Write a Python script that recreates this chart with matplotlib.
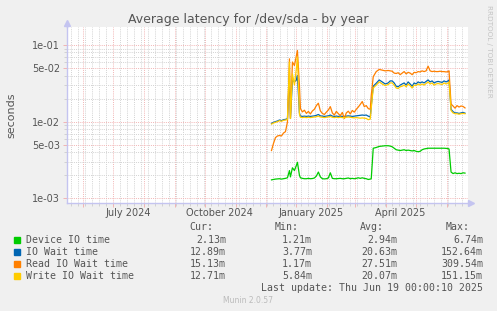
import matplotlib
matplotlib.use('Agg')
import matplotlib.pyplot as plt
import matplotlib.dates as mdates
import numpy as np
from matplotlib.patches import Rectangle
from matplotlib.ticker import FixedLocator, FixedFormatter, NullFormatter

# sample dates (one point every ~2 days, denser around the spikes)
dates = [
    '2024-12-07', '2024-12-09', '2024-12-11', '2024-12-13', '2024-12-15', '2024-12-17', '2024-12-19', '2024-12-21', '2024-12-23', '2024-12-25',
    '2024-12-26', '2024-12-28', '2024-12-30', '2025-01-01', '2025-01-02', '2025-01-04', '2025-01-05', '2025-01-07', '2025-01-09', '2025-01-11',
    '2025-01-13', '2025-01-15', '2025-01-17', '2025-01-19', '2025-01-21', '2025-01-23', '2025-01-25', '2025-01-27', '2025-01-29', '2025-01-31',
    '2025-02-02', '2025-02-04', '2025-02-06', '2025-02-08', '2025-02-10', '2025-02-12', '2025-02-14', '2025-02-16', '2025-02-18', '2025-02-20',
    '2025-02-22', '2025-02-24', '2025-02-26', '2025-02-28', '2025-03-02', '2025-03-04', '2025-03-06', '2025-03-08', '2025-03-10', '2025-03-12',
    '2025-03-14', '2025-03-16', '2025-03-17', '2025-03-19', '2025-03-22', '2025-03-25', '2025-03-28', '2025-03-31', '2025-04-03', '2025-04-05',
    '2025-04-07', '2025-04-09', '2025-04-11', '2025-04-13', '2025-04-15', '2025-04-17', '2025-04-19', '2025-04-21', '2025-04-23', '2025-04-25',
    '2025-04-27', '2025-04-29', '2025-05-01', '2025-05-03', '2025-05-05', '2025-05-07', '2025-05-09', '2025-05-11', '2025-05-13', '2025-05-15',
    '2025-05-17', '2025-05-19', '2025-05-21', '2025-05-23', '2025-05-25', '2025-05-27', '2025-05-29', '2025-05-31', '2025-06-02', '2025-06-03',
    '2025-06-05', '2025-06-07', '2025-06-09', '2025-06-11', '2025-06-13', '2025-06-15', '2025-06-17', '2025-06-19']

# values in milliseconds
device_ms = [
    1.74, 1.76, 1.78, 1.79, 1.80, 1.78, 1.80, 1.82, 1.85, 2.3,
    1.9, 2.5, 2.3, 2.7, 2.95, 2.0, 1.85, 1.82, 1.80, 1.80,
    1.82, 1.80, 1.81, 1.84, 1.95, 2.2, 1.90, 1.80, 1.79, 1.80,
    1.84, 2.15, 1.82, 1.80, 1.80, 1.81, 1.82, 1.80, 1.80, 1.82,
    1.84, 1.80, 1.82, 1.80, 1.82, 1.85, 1.82, 1.85, 1.82, 1.80,
    1.76, 1.78, 1.80, 4.5, 4.6, 4.75, 4.8, 4.85, 4.85, 4.8,
    4.7, 4.5, 4.3, 4.25, 4.2, 4.25, 4.3, 4.2, 4.25, 4.2,
    4.15, 4.2, 4.1, 4.05, 4.1, 4.3, 4.4, 4.45, 4.5, 4.5,
    4.5, 4.5, 4.5, 4.5, 4.5, 4.5, 4.5, 4.48, 4.45, 4.4,
    2.2, 2.1, 2.15, 2.1, 2.12, 2.1, 2.15, 2.13]

iowait_ms = [
    9.5, 9.8, 10.0, 10.2, 10.5, 10.3, 10.6, 10.7, 10.9, 40,
    11, 35, 33, 35, 40, 13, 11.8, 11.7, 11.8, 11.7,
    11.8, 11.7, 11.8, 11.9, 12.1, 12.4, 11.9, 11.8, 11.7, 11.8,
    11.9, 12.2, 11.8, 11.7, 11.8, 11.7, 11.8, 11.7, 11.7, 11.8,
    11.9, 11.8, 11.7, 11.8, 11.9, 12.0, 12.1, 12.2, 12.1, 12.2,
    11.8, 11.5, 16, 29, 31.7, 35, 33, 31, 32, 34,
    34, 32, 29, 28.5, 30, 31, 32, 30, 33, 31,
    29, 32, 31, 33, 32, 33, 32, 33.5, 35, 33,
    34, 32, 33, 33.5, 33, 32.5, 34, 33, 34, 35,
    14.5, 13.5, 13, 13, 12.8, 13, 13.2, 12.9]

read_ms = [
    4.2, 5.2, 6.2, 6.5, 6.6, 6.5, 7.1, 7.4, 9.9, 66,
    11, 60, 54, 73, 85, 30, 14.8, 13.4, 14.1, 12.8,
    13.6, 12.6, 13.8, 14.5, 16.2, 17.4, 13.8, 12.8, 12.4, 13.3,
    14.2, 15.7, 13.0, 12.2, 13.6, 12.7, 12.0, 13.2, 11.0, 13.0,
    13.7, 12.6, 14.0, 13.3, 14.5, 15.5, 16.8, 18.3, 15.7, 16.2,
    14.8, 14.5, 22, 38.6, 45, 48, 47, 46, 46.5, 46,
    45.5, 43, 42.5, 43.5, 41, 43, 45, 42, 44, 43,
    41, 44, 43.5, 45, 44.5, 46, 45, 46, 53, 46,
    45, 45.5, 45, 45, 45.5, 45, 45, 44.5, 45, 46,
    17, 16, 15, 16.2, 15.5, 16, 15.8, 15.1]

write_ms = [
    9.3, 9.6, 9.8, 10.0, 10.3, 10.1, 10.4, 10.5, 10.7, 60,
    11, 42, 30, 50, 70, 12.5, 11.4, 11.3, 11.4, 11.3,
    11.4, 11.3, 11.4, 11.5, 11.6, 11.8, 11.5, 11.4, 11.3, 11.4,
    11.5, 11.7, 11.4, 11.3, 11.4, 11.3, 11.4, 11.3, 11.2, 11.4,
    11.5, 11.4, 11.3, 11.2, 11.3, 11.2, 11.1, 11.2, 11.1, 11.0,
    10.6, 10.8, 15, 27.5, 30, 33, 31, 29.5, 30.5, 32,
    32, 30, 27.5, 27, 28.5, 29, 30, 28.5, 31, 29.5,
    27.5, 30, 29.5, 31, 30, 31, 30, 31.5, 33, 31,
    32, 30, 31, 31.5, 31, 30.5, 32, 31, 32, 33,
    14, 13, 12.7, 12.7, 12.5, 12.7, 12.8, 12.7]

series_names = ['Device IO time', 'IO Wait time', 'Read IO Wait time', 'Write IO Wait time']
series_colors = ['#00CC00', '#0066B3', '#FF8000', '#FFCC00']
cur_vals = ['2.13m', '12.89m', '15.13m', '12.71m']
min_vals = ['1.21m', '3.77m', '1.17m', '5.84m']
avg_vals = ['2.94m', '20.63m', '27.51m', '20.07m']
max_vals = ['6.74m', '152.64m', '309.54m', '151.15m']

y_major = [1e-3, 5e-3, 1e-2, 5e-2, 1e-1]
y_major_labels = ['1e-03', '5e-03', '1e-02', '5e-02', '1e-01']
y_minor = [2e-3, 3e-3, 4e-3, 6e-3, 7e-3, 8e-3, 9e-3,
           2e-2, 3e-2, 4e-2, 6e-2, 7e-2, 8e-2, 9e-2]
x_labels = ['July 2024', 'October 2024', 'January 2025', 'April 2025']
x_label_dates = ['2024-07-16', '2024-10-16', '2025-01-16', '2025-04-15']

W, H = 497, 311
def fx(px):
    return px / W
def fy(py):
    return 1 - py / H

text_col = '#555555'
axis_col = '#C4C4F0'
mgrid_col = '#F2B4B4'
grid_col = '#D2D2D2'
dot = (0, (1, 1.2))

fig = plt.figure(figsize=(W / 100, H / 100), dpi=100, facecolor='#F0F0F0')
ax = fig.add_axes([fx(67), fy(202.5), (468 - 67) / W, (202.5 - 27) / H])
ax.set_facecolor('white')
ax.set_yscale('log')
ax.set_ylim(10 ** -3.055, 10 ** -0.765)
ax.set_xlim(np.datetime64('2024-05-16'), np.datetime64('2025-06-22'))

x = np.array(dates, dtype='datetime64[D]')
for vals, col in zip([device_ms, iowait_ms, read_ms, write_ms], series_colors):
    ax.plot(x, np.array(vals) * 1e-3, color=col, lw=0.9, zorder=3)

# grid
ax.xaxis.set_major_locator(mdates.MonthLocator())
ax.xaxis.set_minor_locator(mdates.WeekdayLocator(byweekday=mdates.MO))
ax.xaxis.set_major_formatter(NullFormatter())
ax.xaxis.set_minor_formatter(NullFormatter())
ax.yaxis.set_major_locator(FixedLocator(y_major))
ax.yaxis.set_major_formatter(FixedFormatter(y_major_labels))
ax.yaxis.set_minor_locator(FixedLocator(y_minor))
ax.yaxis.set_minor_formatter(NullFormatter())
ax.grid(which='minor', color=grid_col, ls=dot, lw=0.7)
ax.grid(which='major', color=mgrid_col, ls=dot, lw=0.7)
ax.set_axisbelow(True)

ax.tick_params(which='major', axis='both', length=3, width=0.7, color=mgrid_col,
               labelsize=7, labelcolor=text_col, pad=2)
ax.tick_params(which='minor', axis='both', length=2, width=0.7, color=grid_col)

for s in ['top', 'right']:
    ax.spines[s].set_visible(False)
for s in ['left', 'bottom']:
    ax.spines[s].set_color(axis_col)
    ax.spines[s].set_linewidth(1)

# axis arrows
ax.plot([1.0, 1.008], [0, 0], color=axis_col, lw=1, transform=ax.transAxes, clip_on=False)
ax.plot([1.008], [0], marker='>', ms=4, color=axis_col, transform=ax.transAxes, clip_on=False)
ax.plot([0, 0], [1.0, 1.02], color=axis_col, lw=1, transform=ax.transAxes, clip_on=False)
ax.plot([0], [1.025], marker='^', ms=4, color=axis_col, transform=ax.transAxes, clip_on=False)

for d, lab in zip(x_label_dates, x_labels):
    ax.text(np.datetime64(d), -0.06, lab, transform=ax.get_xaxis_transform(),
            ha='center', va='center', fontsize=7, color=text_col)

fig.text(fx(248), fy(19.5), 'Average latency for /dev/sda - by year',
         ha='center', va='center', fontsize=9, color=text_col)
fig.text(fx(11), fy(115), 'seconds', rotation=90, ha='center', va='center',
         fontsize=8, color=text_col)
fig.text(fx(489), fy(5), 'RRDTOOL / TOBI OETIKER', rotation=270, ha='center',
         va='top', fontsize=5.2, color='#C4C4C4')

# legend
mono = dict(family='DejaVu Sans Mono', fontsize=7.15, color=text_col, va='center')
for hdr, px in zip(['Cur:', 'Min:', 'Avg:', 'Max:'], [213, 299, 384, 470]):
    fig.text(fx(px), fy(227.5), hdr, ha='right', **mono)
rows_y = [240, 252, 264, 276]
for i, name in enumerate(series_names):
    yy = rows_y[i]
    fig.add_artist(Rectangle((fx(14), fy(yy + 3)), 6 / W, 6 / H,
                             transform=fig.transFigure, color=series_colors[i]))
    fig.text(fx(26), fy(yy), name, ha='left', **mono)
    for vals, px in zip([cur_vals, min_vals, avg_vals, max_vals], [226, 312, 397, 483]):
        fig.text(fx(px), fy(yy), vals[i], ha='right', **mono)
fig.text(fx(483), fy(288), 'Last update: Thu Jun 19 00:00:10 2025', ha='right', **mono)
fig.text(fx(248), fy(300.5), 'Munin 2.0.57', ha='center', va='center',
         fontsize=5.5, color='#BBBBBB')

fig.savefig('out.png', dpi=100, facecolor=fig.get_facecolor())
